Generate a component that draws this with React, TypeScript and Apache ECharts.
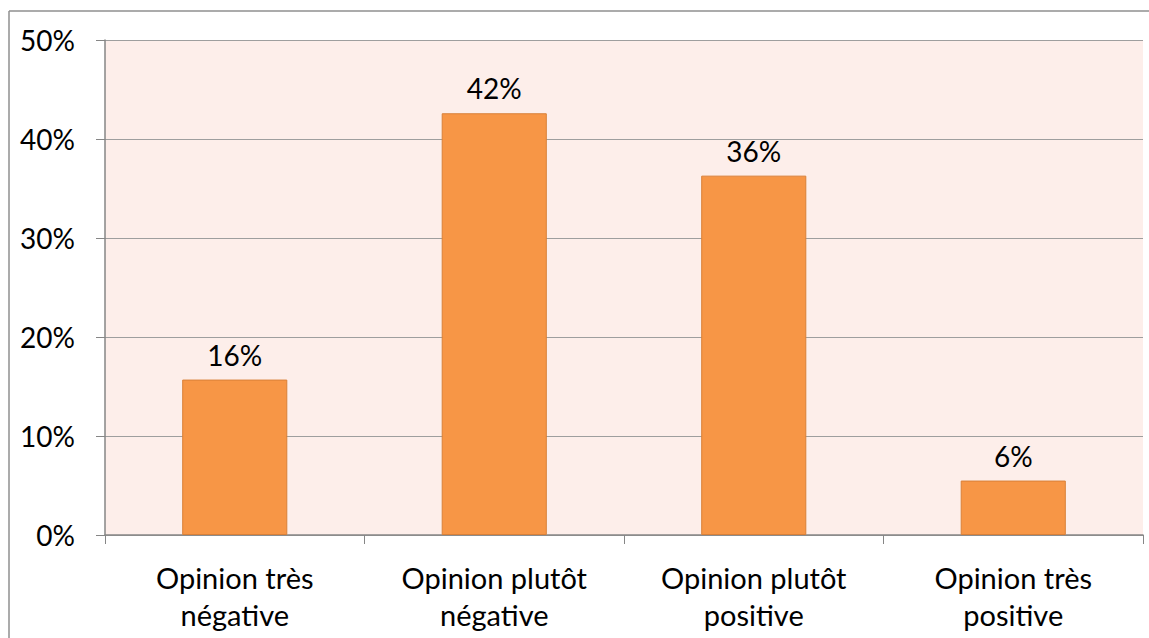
import React, { useEffect, useRef } from "react";
import * as echarts from "echarts";

const categories = [
  "Opinion très\nnégative",
  "Opinion plutôt\nnégative",
  "Opinion plutôt\npositive",
  "Opinion très\npositive",
];
const values = [15.7, 42.6, 36.3, 5.5];
const valueLabels = ["16%", "42%", "36%", "6%"];
const yMin = 0;
const yMax = 50;
const yInterval = 10;

const FONT = "Lato";

export default function App() {
  const ref = useRef<HTMLDivElement>(null);
  useEffect(() => {
    if (!ref.current) return;
    const chart = echarts.init(ref.current, undefined, { renderer: "svg" });
    chart.setOption({
      animation: false,
      backgroundColor: "#ffffff",
      textStyle: { fontFamily: FONT },
      grid: {
        left: 105,
        top: 40,
        right: 6,
        bottom: 103,
        show: true,
        backgroundColor: "#FDEEEA",
        borderWidth: 0,
      },
      graphic: [
        {
          type: "line",
          shape: { x1: 9, y1: 11, x2: 1149, y2: 11 },
          style: { stroke: "#8f8f8f", lineWidth: 1.5 },
        },
        {
          type: "line",
          shape: { x1: 9, y1: 11, x2: 9, y2: 638 },
          style: { stroke: "#8f8f8f", lineWidth: 1.5 },
        },
      ],
      xAxis: {
        type: "category",
        data: categories,
        boundaryGap: true,
        axisLine: { show: true, lineStyle: { color: "#868686", width: 1.5 } },
        axisTick: { show: true, length: 9, lineStyle: { color: "#868686", width: 1 } },
        axisLabel: {
          color: "#000000",
          fontSize: 29,
          fontFamily: FONT,
          lineHeight: 37,
          margin: 24,
          interval: 0,
        },
        splitLine: { show: false },
      },
      yAxis: {
        type: "value",
        min: yMin,
        max: yMax,
        interval: yInterval,
        axisLine: { show: true, lineStyle: { color: "#868686", width: 1.5 } },
        axisTick: { show: true, length: 9, lineStyle: { color: "#868686", width: 1 } },
        axisLabel: {
          color: "#000000",
          fontSize: 28,
          fontFamily: FONT,
          margin: 30,
          formatter: (v: number) => `${v}%`,
        },
        splitLine: { show: true, lineStyle: { color: "#9e9e9e", width: 1 } },
      },
      series: [
        {
          type: "bar",
          data: values,
          barWidth: "40.5%",
          itemStyle: { color: "#F79646", borderColor: "#D98038", borderWidth: 1 },
          label: {
            show: true,
            position: "top",
            distance: 11,
            color: "#000000",
            fontSize: 28,
            fontFamily: FONT,
            formatter: (p: any) => valueLabels[p.dataIndex],
          },
        },
      ],
    });
    return () => chart.dispose();
  }, []);
  return (
    <div
      ref={ref}
      style={{ position: "fixed", left: 0, top: 0, width: 1149, height: 638 }}
    />
  );
}
